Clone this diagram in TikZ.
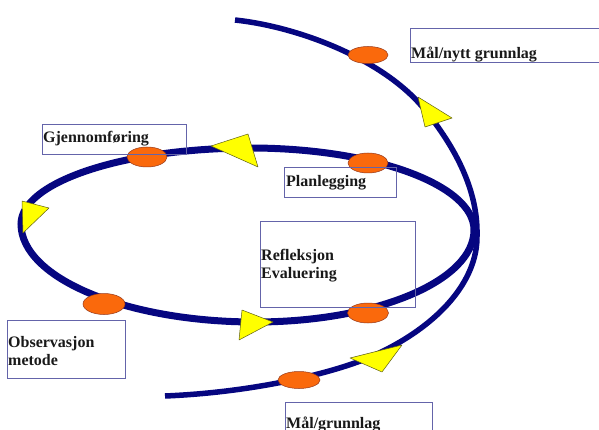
\documentclass[tikz,border=0pt]{standalone}
\usepackage{fontspec}
\setmainfont{Liberation Serif}
\usepackage{xcolor}
\usepackage{tikz}

\definecolor{spiralblue}{RGB}{6,6,128}
\definecolor{spotorange}{RGB}{250,105,12}
\definecolor{spotedge}{RGB}{150,55,25}
\definecolor{triyellow}{RGB}{255,255,0}
\definecolor{triedge}{RGB}{95,95,20}
\definecolor{boxline}{RGB}{100,100,170}

\begin{document}
\begin{tikzpicture}[x=1pt, y=-1pt, font=\fontsize{16}{18}\selectfont\bfseries,
  spiral/.style={draw=spiralblue, line width=6pt},
  spot/.style={fill=spotorange, draw=spotedge, line width=0.5pt},
  tri/.style={fill=triyellow, draw=triedge, line width=0.5pt, line join=round},
  box/.style={draw=boxline, line width=0.8pt, anchor=north west, inner sep=0pt},
  lab/.style={anchor=base west, align=left, inner sep=0pt, text=black!90}]
\useasboundingbox (0,0) rectangle (599,430);
\clip (0,0) rectangle (599,430);
\fill[white] (0,0) rectangle (599,430);

\draw[spiral, line width=5.5pt] (235,20) .. controls (300,27) and (385,60) .. (425,110)
  .. controls (455,147) and (478,190) .. (477,235)
  .. controls (478,280) and (440,325) .. (375,355)
  .. controls (340,371) and (260,392) .. (165,396);
\draw[spiral, line width=7pt] (474,230) .. controls (474,185) and (374,148) .. (250,148)
  .. controls (124,148) and (21,182) .. (21,224)
  .. controls (21,278) and (126,322) .. (255,322)
  .. controls (376,322) and (474,281) .. cycle;

\filldraw[tri] (418,97) -- (452,118) -- (425,127) -- cycle;
\filldraw[tri] (211,146) -- (248,134) -- (258,167) -- cycle;
\filldraw[tri] (22,201) -- (49,208) -- (23,233) -- cycle;
\filldraw[tri] (242,310) -- (273,322) -- (239,340) -- cycle;
\filldraw[tri] (350,358) -- (402,345) -- (382,372) -- cycle;

\path[spot] (368,55) ellipse [x radius=20, y radius=8.5];
\path[spot] (368,163) ellipse [x radius=20, y radius=10];
\path[spot] (147,157) ellipse [x radius=20, y radius=10];
\path[spot] (104,304) ellipse [x radius=21, y radius=10.5];
\path[spot] (368,313) ellipse [x radius=20.5, y radius=10];
\path[spot] (299,380) ellipse [x radius=21, y radius=8.5];

\node[box, minimum width=195pt, minimum height=34pt] (nyttbox) at (410,28) {};
\node[box, minimum width=144pt, minimum height=30pt] (gjbox) at (42,124) {};
\node[box, minimum width=112pt, minimum height=30pt] (planbox) at (284,167) {};
\node[box, minimum width=155pt, minimum height=86pt] (reflbox) at (260,221) {};
\node[box, minimum width=118pt, minimum height=58pt] (obsbox) at (7,320) {};
\node[box, minimum width=147pt, minimum height=40pt] (grunnbox) at (285,402) {};

\node[lab] (nytt) at (411,59) {Mål/nytt grunnlag};
\node[lab] (gj) at (43,143) {Gjennomføring};
\node[lab] (plan) at (286,187) {Planlegging};
\node[lab] (refl) at (261,278) {Refleksjon\\Evaluering};
\node[lab] (obs) at (8,365) {Observasjon\\metode};
\node[lab] (grunn) at (286,428) {Mål/grunnlag};
\end{tikzpicture}
\end{document}
